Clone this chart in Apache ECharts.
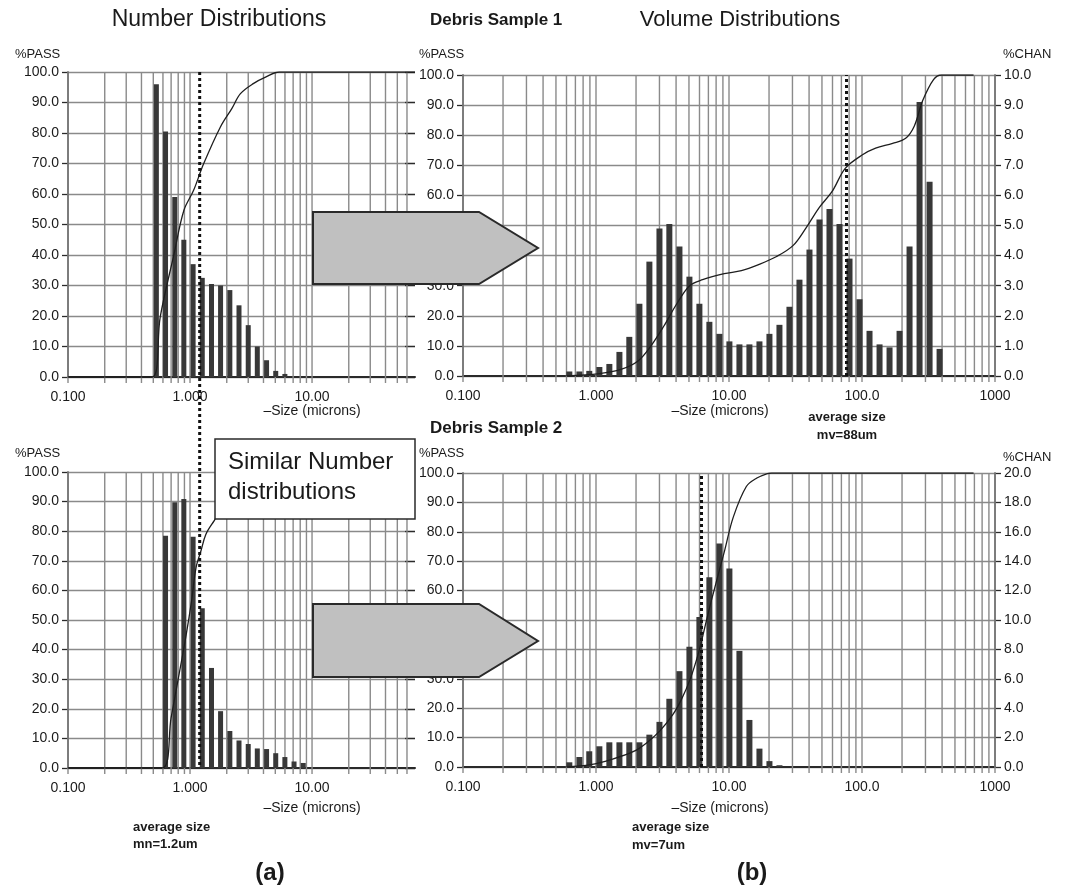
<!DOCTYPE html>
<html><head><meta charset="utf-8">
<script src="https://cdn.jsdelivr.net/npm/echarts@6/dist/echarts.min.js"></script>
<style>html,body{margin:0;padding:0;background:#fff}#c{width:1073px;height:891px}</style>
</head><body><div id="c"></div>
<script>
const FONT = '"Liberation Sans", Arial, sans-serif';

// ---- data ----
// Number distributions (sizes in microns, channel heights on the %PASS scale)
const numSizes1 = [0.53,0.63,0.75,0.89,1.06,1.26,1.5,1.78,2.12,2.52,3.0,3.56,4.24,5.04,5.99];
const numChan1  = [96,80.5,59,45,37,32.5,30.5,30,28.5,23.5,17,10,5.5,2,1];
const numPass1  = [[0.1,0],[0.49,0],[0.57,19.7],[0.74,40.4],[0.89,54.6],[1.07,61.2],[1.29,69.8],[1.77,81.9],[2.2,88],[2.59,92.9],[3.3,96.2],[4.2,98.4],[5.4,100],[69.8,100]];
const numSizes2 = [0.63,0.75,0.89,1.06,1.26,1.5,1.78,2.12,2.52,3.0,3.56,4.24,5.04,5.99,7.12,8.47];
const numChan2  = [78.5,89.8,90.9,78.1,54,33.8,19.2,12.5,9.3,8.1,6.6,6.4,5.0,3.7,2.2,1.7];
const numPass2  = [[0.1,0],[0.59,0],[0.7,17],[0.8,30],[0.93,45],[1.03,56.5],[1.12,67.7],[1.23,73.4],[1.35,79],[1.58,83.6],[2.0,90],[2.6,95],[3.5,98.5],[5,100],[69.8,100]];
// Volume distributions (channel heights on the %CHAN scale)
const volSizes1 = [0.63,0.75,0.89,1.06,1.26,1.5,1.78,2.12,2.52,3.0,3.56,4.24,5.04,5.99,7.12,8.47,10.07,11.98,14.24,16.94,20.14,23.95,28.48,33.87,40.28,47.9,56.96,67.74,80.55,95.79,113.9,135.5,161.1,191.6,227.8,270.9,322.2,383.1];
const volChan1  = [0.15,0.15,0.17,0.3,0.4,0.8,1.3,2.4,3.8,4.9,5.05,4.3,3.3,2.4,1.8,1.4,1.15,1.05,1.05,1.15,1.4,1.7,2.3,3.2,4.2,5.2,5.55,5.05,3.9,2.55,1.5,1.05,0.95,1.5,4.3,9.1,6.45,0.9];
const volPass1  = [[0.6,0],[1.06,0.8],[1.54,2.2],[2.07,5],[2.59,10],[3.24,16.6],[4.05,24],[5.06,30],[6.33,32],[9.2,34],[12.4,35],[16.7,37],[22.6,39.6],[30.4,43.4],[38.2,49.4],[47.8,56],[59.8,61.4],[74.8,69],[100.9,73.5],[126.6,75.7],[170,77.3],[213,79],[247,83],[286,91.5],[345,98.5],[396,100],[690,100]];
const volSizes2 = [0.63,0.75,0.89,1.06,1.26,1.5,1.78,2.12,2.52,3.0,3.56,4.24,5.04,5.99,7.12,8.47,10.07,11.98,14.24,16.94,20.14,23.95];
const volChan2  = [0.32,0.68,1.07,1.41,1.68,1.68,1.68,1.68,2.2,3.07,4.64,6.52,8.18,10.2,12.9,15.2,13.5,7.9,3.2,1.25,0.4,0.12];
const volPass2  = [[0.6,0],[0.91,0.8],[1.33,2.7],[1.92,5.3],[2.4,8.2],[3.01,12.2],[3.78,17.8],[4.39,23],[5.1,29.8],[5.91,38.9],[6.62,48],[7.41,57],[9.28,73.7],[10.77,85],[13.5,95.4],[16.2,98.3],[19.4,99.8],[20.9,100],[690,100]];
// average-size markers
const meanNum = 1.2, meanVol1 = 76, meanVol2 = 6.2;
// axis ranges / grid values / tick labels
const leftMaxX = 69.8, rightMaxX = 1000;
const gridLeftX  = [0.1,0.2,0.3,0.4,0.5,0.6,0.7,0.8,0.9,1,2,3,4,5,6,7,8,9,10,20,30,40,50,60];
const gridRightX = [0.1,0.2,0.3,0.4,0.5,0.6,0.7,0.8,0.9,1,2,3,4,5,6,7,8,9,10,20,30,40,50,60,70,80,90,100,200,300,400,500,600,700,800,900,1000];
const xTickLabels = {'-1':'0.100','0':'1.000','1':'10.00','2':'100.0','3':'1000'};

// ---- chart ----
const chart = echarts.init(document.getElementById('c'));
const GRIDC = '#8a8a8a', AXC = '#2a2a2a', TXT = '#1a1a1a';
function fmtX(v){ const l = Math.log10(v), e = Math.round(l); return Math.abs(l-e) < 1e-6 ? (xTickLabels[String(e)] || '') : ''; }
function xAx(g, max){
  return {type:'log', logBase:10, gridIndex:g, min:0.1, max:max,
    axisLine:{show:true, onZero:false, lineStyle:{color:AXC, width:2}},
    axisTick:{show:false}, splitLine:{show:false}, minorTick:{show:false},
    axisLabel:{formatter:fmtX, margin:13, color:TXT, fontSize:14, fontFamily:FONT, hideOverlap:false}};
}
function yLeft(g){
  return {type:'value', gridIndex:g, min:0, max:100, interval:10, position:'left',
    axisLine:{show:true, lineStyle:{color:AXC, width:1.5}},
    axisTick:{show:true, length:6, lineStyle:{color:AXC, width:1.3}},
    axisLabel:{formatter:v=>v.toFixed(1), margin:9, color:TXT, fontSize:14, fontFamily:FONT},
    splitLine:{show:true, lineStyle:{color:GRIDC, width:1.4}}};
}
function yRight(g, max, iv, visible){
  return {type:'value', gridIndex:g, min:0, max:max, interval:iv, position:'right',
    axisLine:{show:visible, lineStyle:{color:AXC, width:1.5}},
    axisTick:{show:true, inside:!visible, length:visible?6:10, lineStyle:{color:AXC, width:1.3}},
    axisLabel:{show:visible, formatter:v=>v.toFixed(1), margin:9, color:TXT, fontSize:14, fontFamily:FONT},
    splitLine:{show:false}};
}
function gridSeries(xi, yi, vals){
  return {type:'custom', xAxisIndex:xi, yAxisIndex:yi, silent:true, z:1, clip:false,
    data: vals.map(v=>[v,100]),
    renderItem:(p, api)=>{
      const t = api.coord([api.value(0), api.value(1)]), b = api.coord([api.value(0), 0]);
      return {type:'line', shape:{x1:t[0], y1:t[1], x2:b[0], y2:b[1]+6}, style:{stroke:GRIDC, lineWidth:1.4}};
    }};
}
function barSeries(xi, yi, sizes, vals, w){
  return {type:'custom', xAxisIndex:xi, yAxisIndex:yi, silent:true, z:3,
    data: sizes.map((s,i)=>[s, vals[i]]),
    renderItem:(p, api)=>{
      const b = api.coord([api.value(0), 0]), t = api.coord([api.value(0), api.value(1)]);
      return {type:'rect', shape:{x:b[0]-w/2, y:t[1], width:w, height:b[1]-t[1]}, style:{fill:'#383838'}};
    }};
}
function passSeries(xi, yi, data, mean){
  const s = {type:'line', xAxisIndex:xi, yAxisIndex:yi, data:data, showSymbol:false, smooth:0.35,
    lineStyle:{color:'#1e1e1e', width:1.3}, z:5, silent:true};
  if (mean != null) s.markLine = {silent:true, symbol:'none', label:{show:false},
    lineStyle:{color:'#111', width:3, type:[3,3]}, data:[{xAxis:mean}]};
  return s;
}

const option = {
  animation:false,
  textStyle:{fontFamily:FONT},
  grid:[
    {left:68, top:72, width:347, height:305, outerBoundsMode:'none'},
    {left:68, top:472, width:347, height:296, outerBoundsMode:'none'},
    {left:463, top:75, width:532, height:301, outerBoundsMode:'none'},
    {left:463, top:473, width:532, height:294, outerBoundsMode:'none'}
  ],
  xAxis:[xAx(0,leftMaxX), xAx(1,leftMaxX), xAx(2,rightMaxX), xAx(3,rightMaxX)],
  yAxis:[yLeft(0), yRight(0,100,10,false), yLeft(1), yRight(1,100,10,false),
         yLeft(2), yRight(2,10,1,true), yLeft(3), yRight(3,20,2,true)],
  series:[
    gridSeries(0,0,gridLeftX), gridSeries(1,2,gridLeftX), gridSeries(2,4,gridRightX), gridSeries(3,6,gridRightX),
    barSeries(0,0,numSizes1,numChan1,5), barSeries(1,2,numSizes2,numChan2,5),
    barSeries(2,5,volSizes1,volChan1,6), barSeries(3,7,volSizes2,volChan2,6),
    passSeries(0,0,numPass1,null), passSeries(1,2,numPass2,null),
    passSeries(2,4,volPass1,meanVol1), passSeries(3,6,volPass2,meanVol2)
  ]
};
chart.setOption(option);

// annotations
const pTop = chart.convertToPixel({xAxisIndex:0, yAxisIndex:0}, [meanNum, 100]);
const pBot = chart.convertToPixel({xAxisIndex:1, yAxisIndex:2}, [meanNum, 0]);
function txt(x, y, s, size, opt){
  return {type:'text', x:x, y:y, z:50,
    style:{text:s, fill:TXT, font:(opt&&opt.weight||'normal')+' '+size+'px '+FONT,
      textAlign:(opt&&opt.align)||'left', textVerticalAlign:'middle'}};
}
const arrow = (y0, y1, ym)=>({type:'polygon', z:40,
  shape:{points:[[313,y0],[479,y0],[538,ym],[479,y1],[313,y1]]},
  style:{fill:'#c0c0c0', stroke:'#2a2a2a', lineWidth:2}});
chart.setOption({graphic:[
  {type:'line', z:20, shape:{x1:pTop[0], y1:pTop[1], x2:pBot[0], y2:pBot[1]},
   style:{stroke:'#111', lineWidth:3, lineDash:[3,3]}},
  arrow(212,284,248), arrow(604,677,641),
  {type:'rect', z:40, shape:{x:215, y:439, width:200, height:80}, style:{fill:'#fff', stroke:'#2a2a2a', lineWidth:1.5}},
  txt(228,462,'Similar Number',24), txt(228,492,'distributions',24),
  txt(219,20,'Number Distributions',23,{align:'center'}),
  txt(430,20,'Debris Sample 1',17,{weight:'bold'}),
  txt(740,20,'Volume Distributions',22,{align:'center'}),
  txt(15,54,'%PASS',13), txt(419,54,'%PASS',13), txt(1003,54,'%CHAN',13),
  txt(312,411,'\u2013Size (microns)',14,{align:'center'}),
  txt(720,411,'\u2013Size (microns)',14,{align:'center'}),
  txt(847,417,'average size',13,{weight:'bold',align:'center'}),
  txt(847,435,'mv=88um',13,{weight:'bold',align:'center'}),
  txt(430,428,'Debris Sample 2',17,{weight:'bold'}),
  txt(15,453,'%PASS',13), txt(419,453,'%PASS',13), txt(1003,457,'%CHAN',13),
  txt(312,808,'\u2013Size (microns)',14,{align:'center'}),
  txt(720,808,'\u2013Size (microns)',14,{align:'center'}),
  txt(133,827,'average size',13,{weight:'bold'}), txt(133,844,'mn=1.2um',13,{weight:'bold'}),
  txt(632,827,'average size',13,{weight:'bold'}), txt(632,845,'mv=7um',13,{weight:'bold'}),
  txt(270,873,'(a)',24,{weight:'bold',align:'center'}),
  txt(752,873,'(b)',24,{weight:'bold',align:'center'})
]});
</script></body></html>
